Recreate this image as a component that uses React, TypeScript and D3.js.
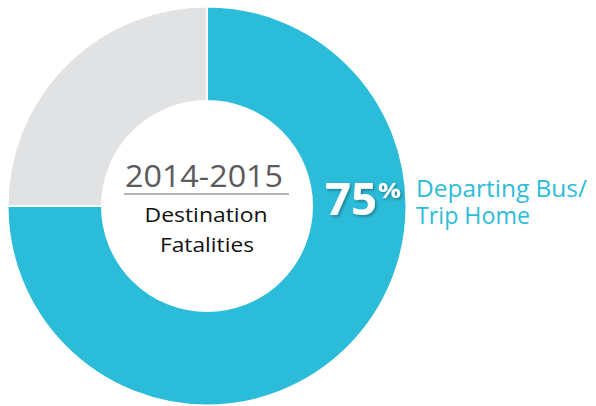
import React from "react";
import * as d3 from "d3";

const categories = ["Departing Bus/Trip Home", "Other"];
const values = [75, 25];
const colors = ["#2BBCD9", "#E1E2E4"];
const yearLabel = "2014-2015";
const centerLines = ["Destination", "Fatalities"];
const pctLabel = "75";
const labelLines = ["Departing Bus/", "Trip Home"];

const W = 596;
const H = 406;
const cx = 207;
const cy = 206;
const outerR = 199.5;
const innerR = 105;

export default function App() {
  const pie = d3.pie<number>().sort(null).startAngle(0).endAngle(2 * Math.PI);
  const arcs = pie(values);
  const arcGen = d3.arc<d3.PieArcDatum<number>>().innerRadius(innerR).outerRadius(outerR);
  const font = "'Open Sans', 'Liberation Sans', sans-serif";
  return (
    <svg
      width={W}
      height={H}
      viewBox={`0 0 ${W} ${H}`}
      style={{ position: "absolute", left: 0, top: 0, display: "block", background: "#fff" }}
    >
      <defs>
        <filter id="sh" x="-20%" y="-20%" width="140%" height="140%">
          <feDropShadow dx="1.5" dy="1.5" stdDeviation="1.5" floodColor="#000" floodOpacity="0.35" />
        </filter>
      </defs>
      <g transform={`translate(${cx},${cy})`}>
        {arcs.map((a, i) => (
          <path key={categories[i]} d={arcGen(a) || ""} fill={colors[i]} stroke="#fff" strokeWidth={2} />
        ))}
      </g>
      <text
        x={125}
        y={187}
        fontFamily={font}
        fontSize={31}
        fill="#5B5B5D"
        textLength={158}
        lengthAdjust="spacingAndGlyphs"
      >
        {yearLabel}
      </text>
      <line x1={124} x2={289} y1={194} y2={194} stroke="#9A9A9A" strokeWidth={1.6} />
      <text x={206} y={222} textAnchor="middle" fontFamily={font} fontSize={20.5} fill="#111"
        textLength={123} lengthAdjust="spacingAndGlyphs">
        {centerLines[0]}
      </text>
      <text x={207} y={252} textAnchor="middle" fontFamily={font} fontSize={20.5} fill="#111"
        textLength={94} lengthAdjust="spacingAndGlyphs">
        {centerLines[1]}
      </text>
      <g filter="url(#sh)">
        <text x={325} y={215} fontFamily={font} fontSize={44} fontWeight="bold" fill="#fff"
          textLength={52} lengthAdjust="spacingAndGlyphs">
          {pctLabel}
        </text>
        <text x={378} y={198} fontFamily={font} fontSize={22} fontWeight="bold" fill="#fff"
          textLength={23} lengthAdjust="spacingAndGlyphs">
          %
        </text>
      </g>
      <text x={416} y={197} fontFamily={font} fontSize={23.5} fill={colors[0]}
        textLength={171} lengthAdjust="spacingAndGlyphs">
        {labelLines[0]}
      </text>
      <text x={416} y={224} fontFamily={font} fontSize={23.5} fill={colors[0]}
        textLength={114} lengthAdjust="spacingAndGlyphs">
        {labelLines[1]}
      </text>
    </svg>
  );
}
